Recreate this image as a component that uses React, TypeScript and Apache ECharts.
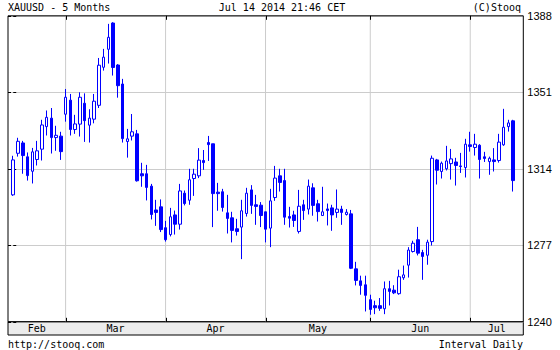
import React, { useEffect, useRef } from 'react';
import * as echarts from 'echarts';

// XAUUSD daily, 14 Feb 2014 .. 14 Jul 2014 (trading days, index order)
const openP = [
  1301.4, 1321.5, 1326.5, 1319.8, 1312.8, 1318.5, 1323.5, 1334.4, 1338.5, 1329.1, 1329.8,
  1340.4, 1347.2, 1333.0, 1335.6, 1345.7, 1335.1, 1338.0, 1344.7, 1363.1, 1371.8, 1384.5,
  1364.2, 1355.0, 1327.2, 1329.8, 1330.9, 1311.6, 1311.6, 1305.6, 1294.1, 1295.6,
  1285.5, 1282.2, 1291.7, 1287.2, 1302.2, 1298.8, 1309.3, 1310.6, 1318.0, 1326.7, 1326.1,
  1302.7, 1302.9, 1292.7, 1290.3, 1285.0, 1285.8, 1292.4, 1303.8, 1296.6, 1296.4,
  1293.2, 1285.3, 1300.1, 1310.6, 1308.3, 1290.9, 1291.7, 1283.7, 1296.6, 1294.5, 1304.8,
  1297.1, 1291.4, 1294.6, 1295.1, 1292.9, 1294.5, 1291.9, 1292.2, 1265.6, 1259.8, 1257.9,
  1250.7, 1247.8, 1247.8, 1246.3, 1256.0, 1255.3, 1253.6, 1261.3, 1267.4, 1274.0, 1279.7,
  1273.5, 1272.2, 1278.8, 1318.3, 1312.7, 1314.0, 1316.5, 1317.3, 1315.4, 1314.6,
  1325.6, 1324.3, 1325.4, 1319.8, 1317.5, 1318.3, 1318.0, 1325.6, 1334.4, 1337.2,
];
const closeP = [
  1318.3, 1327.3, 1320.4, 1310.7, 1322.2, 1322.7, 1335.2, 1338.9, 1329.1, 1330.2, 1322.3,
  1348.6, 1333.0, 1335.7, 1348.6, 1337.3, 1338.5, 1346.7, 1364.1, 1368.0, 1377.6, 1363.0,
  1354.2, 1328.6, 1328.5, 1331.9, 1308.2, 1310.6, 1305.0, 1291.9, 1292.9, 1284.6,
  1279.7, 1290.8, 1287.2, 1303.3, 1297.2, 1308.7, 1311.4, 1318.2, 1317.0, 1325.7, 1302.0,
  1302.0, 1295.3, 1290.0, 1284.2, 1283.7, 1293.7, 1302.2, 1296.3, 1295.8, 1291.4,
  1284.8, 1298.5, 1309.5, 1307.4, 1290.6, 1290.1, 1289.0, 1295.9, 1293.8, 1305.6, 1296.3,
  1293.3, 1293.2, 1293.8, 1291.7, 1294.5, 1292.9, 1293.0, 1265.9, 1260.0, 1257.6, 1252.8,
  1246.0, 1246.8, 1246.5, 1256.0, 1254.7, 1254.0, 1261.8, 1262.7, 1274.7, 1278.0, 1273.2,
  1271.6, 1278.5, 1319.1, 1313.3, 1316.7, 1317.8, 1318.8, 1315.6, 1315.1, 1325.9,
  1324.8, 1325.9, 1318.5, 1319.0, 1319.1, 1317.5, 1326.9, 1334.1, 1336.2, 1308.3,
];
const lowP = [
  1300.9, 1319.9, 1311.6, 1308.3, 1306.9, 1315.6, 1318.0, 1330.1, 1321.4, 1322.7, 1318.3,
  1336.8, 1330.1, 1330.9, 1329.6, 1327.0, 1326.7, 1336.0, 1343.4, 1361.5, 1364.9, 1359.1,
  1348.4, 1326.7, 1319.4, 1327.7, 1307.8, 1305.3, 1298.7, 1289.5, 1286.4, 1283.4,
  1278.8, 1281.3, 1282.2, 1284.6, 1296.3, 1296.6, 1300.9, 1309.5, 1313.5, 1317.8, 1285.8,
  1293.7, 1293.3, 1282.7, 1278.4, 1281.7, 1270.3, 1290.9, 1292.2, 1286.9, 1285.8,
  1278.4, 1276.1, 1298.5, 1303.0, 1286.9, 1285.6, 1285.9, 1282.7, 1289.3, 1291.9, 1291.3,
  1288.5, 1291.3, 1286.6, 1284.0, 1290.3, 1286.9, 1291.4, 1265.5, 1257.6, 1253.1, 1245.0,
  1243.4, 1243.7, 1245.3, 1243.7, 1247.9, 1253.4, 1253.1, 1260.3, 1261.4, 1273.5, 1272.1,
  1260.3, 1267.6, 1276.9, 1306.4, 1309.3, 1313.2, 1308.8, 1305.9, 1312.0, 1309.8,
  1322.3, 1320.4, 1309.3, 1317.3, 1311.1, 1312.7, 1317.0, 1325.1, 1332.0, 1303.0,
];
const highP = [
  1320.3, 1329.0, 1327.5, 1321.9, 1324.1, 1327.5, 1337.7, 1342.2, 1343.4, 1334.8, 1331.9,
  1352.6, 1350.2, 1340.1, 1351.0, 1350.5, 1342.8, 1350.2, 1367.6, 1372.0, 1384.1, 1384.9,
  1364.6, 1357.5, 1333.3, 1340.5, 1332.8, 1316.9, 1315.9, 1306.7, 1299.0, 1299.2,
  1288.8, 1295.1, 1293.8, 1306.7, 1303.5, 1314.0, 1314.0, 1324.0, 1323.1, 1329.9, 1326.1,
  1307.2, 1304.3, 1301.4, 1293.2, 1289.8, 1299.0, 1304.8, 1306.1, 1301.4, 1297.9,
  1293.2, 1304.3, 1315.4, 1314.0, 1314.0, 1295.6, 1293.7, 1303.8, 1299.0, 1308.8, 1307.0,
  1299.0, 1305.3, 1297.2, 1296.6, 1304.0, 1296.1, 1294.5, 1294.1, 1269.0, 1262.3, 1262.3,
  1253.1, 1250.2, 1251.5, 1259.5, 1259.8, 1257.7, 1265.2, 1267.2, 1276.1, 1279.2, 1285.9,
  1274.8, 1279.7, 1320.4, 1318.8, 1317.5, 1325.1, 1323.6, 1319.3, 1321.7, 1328.5,
  1331.9, 1330.9, 1325.9, 1322.2, 1319.9, 1324.0, 1330.9, 1343.0, 1337.7, 1337.7,
];

// index of the first trading day of Mar, Apr, May, Jun, Jul
const monthStarts = [11, 32, 53, 75, 96];
const monthNames = ['Feb', 'Mar', 'Apr', 'May', 'Jun', 'Jul'];
const yTicks = [1240, 1277, 1314, 1351, 1388];
const Y_MIN = 1240;
const Y_MAX = 1388;
const X_MIN = -1.1;
const X_MAX = 107.15;

const MONO = '"DejaVu Sans Mono", "Liberation Mono", monospace';

export default function App() {
  const ref = useRef<HTMLDivElement>(null);

  useEffect(() => {
    if (!ref.current) return;
    const chart = echarts.init(ref.current, undefined, { renderer: 'svg' });

    const bounds = [X_MIN, ...monthStarts, X_MAX];
    const labelPos = monthNames.map((_, k) => (bounds[k] + bounds[k + 1]) / 2);
    const data = openP.map((o, i) => [i, o, closeP[i], lowP[i], highP[i]]);

    const tickLine = { color: '#000', width: 1 };
    const gridLine = { color: '#cccccc', width: 1, type: 'solid' as const };

    const vGrid: any[] = [];
    monthStarts.forEach((m) => {
      vGrid.push([m, Y_MIN], [m, Y_MAX], '-');
    });

    chart.setOption({
      animation: false,
      backgroundColor: '#ffffff',
      grid: {
        left: 8,
        right: 36.7,
        top: 15.8,
        height: 306,
        show: true,
        borderColor: '#000',
        borderWidth: 1,
        backgroundColor: 'transparent',
        z: 3,
      },
      xAxis: [
        {
          type: 'value',
          min: X_MIN,
          max: X_MAX,
          position: 'bottom',
          z: 5,
          axisLine: { show: false },
          axisTick: { show: false },
          splitLine: { show: false },
          axisLabel: {
            show: true,
            customValues: labelPos,
            formatter: (v: number) => {
              const k = labelPos.findIndex((p) => Math.abs(p - v) < 1e-6);
              return k >= 0 ? monthNames[k] : '';
            },
            margin: 2,
            color: '#000',
            fontFamily: MONO,
            fontSize: 10,
          },
        },
      ],
      yAxis: [
        {
          type: 'value',
          min: Y_MIN,
          max: Y_MAX,
          position: 'right',
          axisLine: { show: false },
          axisTick: { show: true, inside: false, length: 3, customValues: yTicks, lineStyle: tickLine },
          axisLabel: {
            show: true,
            customValues: yTicks,
            formatter: (v: number) => String(v),
            margin: 4,
            color: '#000',
            fontFamily: '"Liberation Sans", Arial, sans-serif',
            fontSize: 11,
          },
          splitLine: { show: true, lineStyle: gridLine },
        },
        {
          type: 'value',
          min: Y_MIN,
          max: Y_MAX,
          position: 'left',
          z: 5,
          axisLine: { show: false },
          axisTick: { show: true, inside: true, length: 3, customValues: yTicks, lineStyle: tickLine },
          axisLabel: { show: false },
          splitLine: { show: false },
        },
      ],
      series: [
        {
          // month-start vertical grid lines
          type: 'line',
          xAxisIndex: 0,
          yAxisIndex: 0,
          z: 1,
          silent: true,
          symbol: 'none',
          connectNulls: false,
          lineStyle: gridLine,
          data: vGrid,
        },
        {
          // inner ticks on top and bottom borders at month starts
          type: 'custom',
          xAxisIndex: 0,
          yAxisIndex: 0,
          z: 4,
          silent: true,
          clip: false,
          encode: { x: 0, y: [1, 2] },
          data: monthStarts.map((m) => [m, Y_MIN, Y_MAX]),
          renderItem: (params: any, api: any) => {
            const pb = api.coord([api.value(0), api.value(1)]);
            const pt = api.coord([api.value(0), api.value(2)]);
            const x = Math.round(pb[0]) + 0.5;
            return {
              type: 'group',
              children: [
                { type: 'line', shape: { x1: x, y1: pt[1], x2: x, y2: pt[1] + 4 }, style: { stroke: '#000', lineWidth: 1 } },
                { type: 'line', shape: { x1: x, y1: pb[1] - 4, x2: x, y2: pb[1] }, style: { stroke: '#000', lineWidth: 1 } },
              ],
            };
          },
        },
        {
          type: 'candlestick',
          xAxisIndex: 0,
          yAxisIndex: 0,
          z: 2,
          encode: { x: 0, y: [1, 2, 3, 4] },
          barWidth: 3,
          data,
          itemStyle: {
            color: '#ffffff',
            color0: '#0000ff',
            borderColor: '#0000ff',
            borderColor0: '#0000ff',
            borderColorDoji: '#0000ff',
            borderWidth: 1,
          },
        },
      ],
      graphic: [
        {
          type: 'rect',
          z: -1,
          shape: { x: 8, y: 321.8, width: 515.3, height: 13.2 },
          style: { fill: '#ececec', stroke: '#000', lineWidth: 1 },
        },
        {
          type: 'text',
          style: { x: 8, y: 7.5, text: 'XAUUSD - 5 Months', font: `10px ${MONO}`, fill: '#000', verticalAlign: 'middle', align: 'left' },
        },
        {
          type: 'text',
          style: { x: 282, y: 7.5, text: 'Jul 14 2014 21:46 CET', font: `10px ${MONO}`, fill: '#000', verticalAlign: 'middle', align: 'center' },
        },
        {
          type: 'text',
          style: { x: 521, y: 7.5, text: '(C)Stooq', font: `10px ${MONO}`, fill: '#000', verticalAlign: 'middle', align: 'right' },
        },
        {
          type: 'text',
          style: { x: 8, y: 344, text: 'http://stooq.com', font: `10px ${MONO}`, fill: '#000', verticalAlign: 'middle', align: 'left' },
        },
        {
          type: 'text',
          style: { x: 523, y: 344, text: 'Interval Daily', font: `10px ${MONO}`, fill: '#000', verticalAlign: 'middle', align: 'right' },
        },
      ],
    });

    return () => {
      chart.dispose();
    };
  }, []);

  return (
    <div
      ref={ref}
      style={{ position: 'fixed', left: 0, top: 0, width: 560, height: 350, background: '#fff' }}
    />
  );
}
